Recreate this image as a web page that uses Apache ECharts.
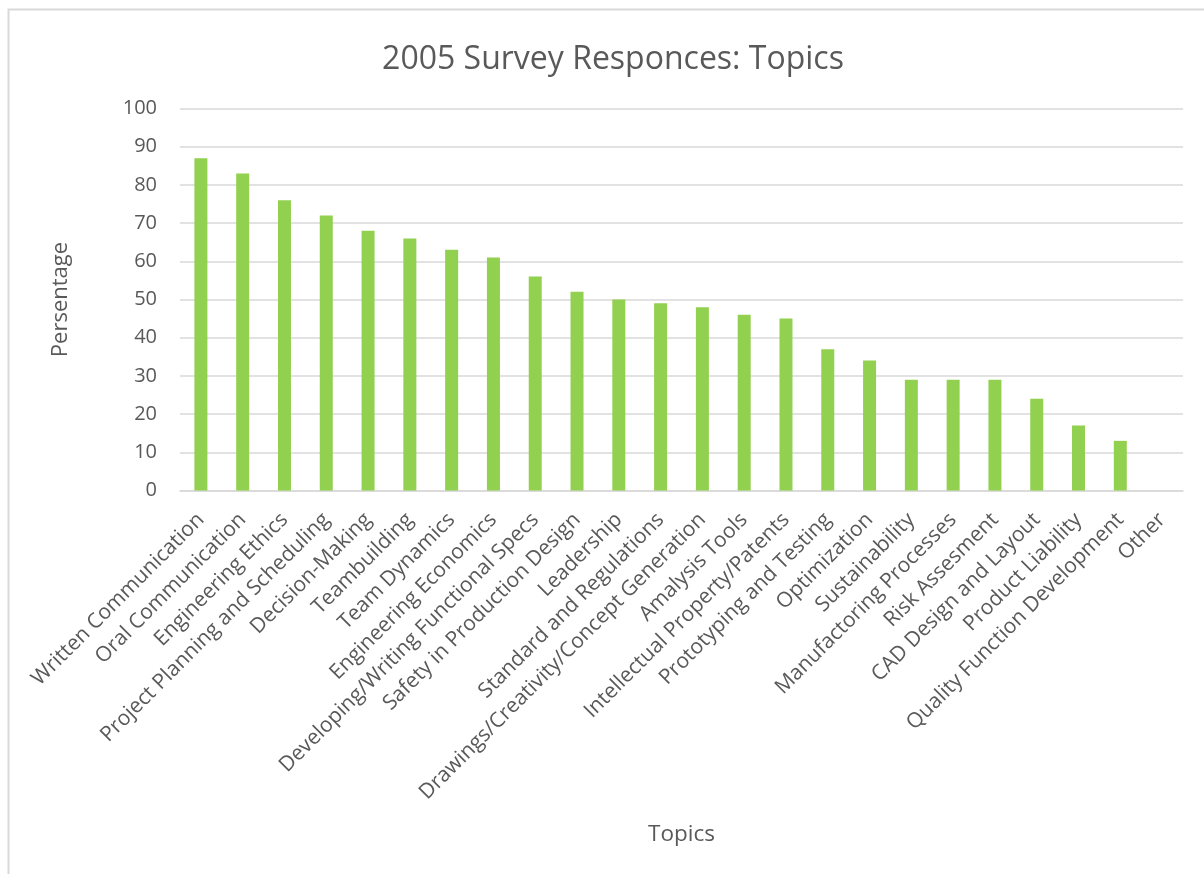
<!DOCTYPE html>
<html>
<head>
<meta charset="utf-8">
<script src="https://cdn.jsdelivr.net/npm/echarts@6/dist/echarts.min.js"></script>
<style>
  html, body { margin: 0; padding: 0; background: #ffffff; }
  #chart { width: 1204px; height: 874px; }
</style>
</head>
<body>
<div id="chart"></div>
<script>
// Survey topics and share of responses (%)
const topics = [
  'Written Communication', 'Oral Communication', 'Engineering Ethics',
  'Project Planning and Scheduling', 'Decision-Making', 'Teambuilding',
  'Team Dynamics', 'Engineering Economics', 'Developing/Writing Functional Specs',
  'Safety in Production Design', 'Leadership', 'Standard and Regulations',
  'Drawings/Creativity/Concept Generation', 'Amalysis Tools',
  'Intellectual Property/Patents', 'Prototyping and Testing', 'Optimization',
  'Sustainability', 'Manufactoring Processes', 'Risk Assesment',
  'CAD Design and Layout', 'Product Liability', 'Quality Function Development', 'Other'
];
const percentages = [87, 83, 76, 72, 68, 66, 63, 61, 56, 52, 50, 49, 48, 46, 45, 37, 34, 29, 29, 29, 24, 17, 13, 0];
const yTicks = { min: 0, max: 100, step: 10 };

const FONT = '"Open Sans", "Liberation Sans", sans-serif';
const TEXT = '#595959';
const GRID = '#d9d9d9';

const chart = echarts.init(document.getElementById('chart'), null, { renderer: 'canvas' });
chart.setOption({
  backgroundColor: '#ffffff',
  animation: false,
  textStyle: { fontFamily: FONT },
  graphic: [{
    type: 'rect',
    shape: { x: 8.5, y: 9.5, width: 1400, height: 1000 },
    style: { fill: 'none', stroke: GRID, lineWidth: 2 },
    silent: true
  }],
  title: {
    text: '2005 Survey Responces: Topics',
    left: 608,
    top: 39,
    textAlign: 'center',
    textStyle: { fontFamily: FONT, fontSize: 32, fontWeight: 'normal', color: TEXT }
  },
  grid: { left: 180, right: 21, top: 108.5, bottom: 383.5, containLabel: false },
  xAxis: {
    type: 'category',
    data: topics,
    name: 'Topics',
    nameLocation: 'middle',
    nameGap: 333,
    nameTextStyle: { fontFamily: FONT, fontSize: 22.5, color: TEXT },
    axisLine: { show: true, lineStyle: { color: GRID, width: 1.5 } },
    axisTick: { show: false },
    axisLabel: { interval: 0, rotate: 45, margin: 26, fontFamily: FONT, fontSize: 21, color: TEXT }
  },
  yAxis: {
    type: 'value',
    min: yTicks.min,
    max: yTicks.max,
    interval: yTicks.step,
    name: 'Persentage',
    nameLocation: 'middle',
    nameGap: 108,
    nameRotate: 90,
    nameTextStyle: { fontFamily: FONT, fontSize: 22, color: TEXT },
    axisLine: { show: false },
    axisTick: { show: false },
    axisLabel: { margin: 23, fontFamily: FONT, fontSize: 20, color: TEXT },
    splitLine: { show: true, lineStyle: { color: GRID, width: 1.5 } }
  },
  series: [{
    type: 'bar',
    data: percentages,
    barWidth: 13,
    itemStyle: { color: '#92d050' }
  }]
});
</script>
</body>
</html>
